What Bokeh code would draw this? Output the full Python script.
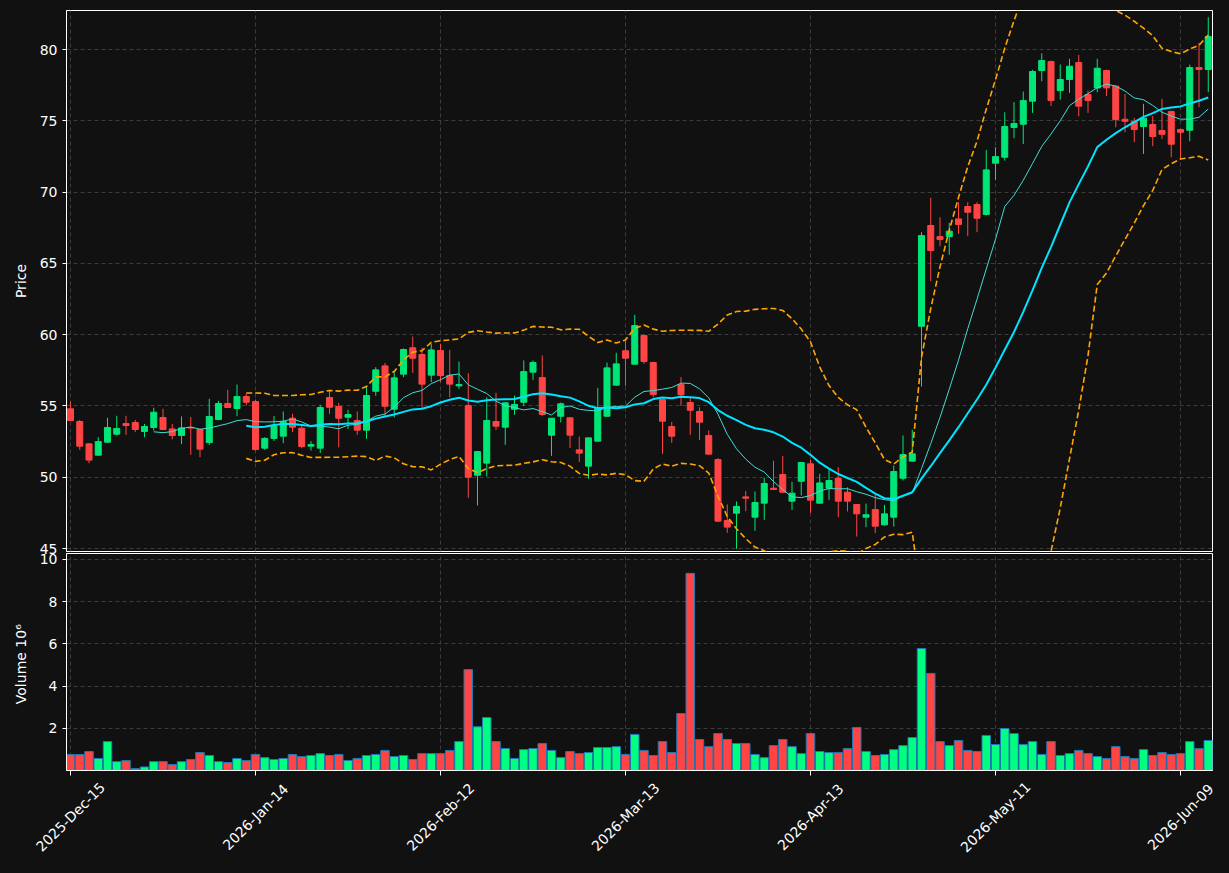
import math
import numpy as np
import pandas as pd
from bokeh.plotting import figure
from bokeh.layouts import column
from bokeh.models import FixedTicker, Range1d
from bokeh.embed import file_html
from bokeh.resources import INLINE

# ---------------- data ----------------
tick_positions = [0, 20, 40, 60, 80, 100, 120]
tick_labels = ["2025-Dec-15", "2026-Jan-14", "2026-Feb-12", "2026-Mar-13",
               "2026-Apr-13", "2026-May-11", "2026-Jun-09"]

open_ = [54.80, 53.91, 52.34, 51.55, 52.46, 53.02, 53.77, 53.84, 53.21, 53.49,
         54.19, 53.39, 52.93, 53.50, 53.35, 52.43, 54.05, 55.17, 54.82, 55.66,
         55.31, 52.04, 52.72, 52.88, 54.14, 53.44, 52.18, 52.04, 55.59, 54.96,
         54.21, 53.98, 53.30, 56.03, 57.81, 54.77, 57.23, 59.08, 58.61, 57.16,
         58.89, 57.13, 56.41, 55.03, 50.14, 50.99, 53.91, 53.51, 54.77, 55.26,
         57.37, 56.99, 52.95, 54.28, 54.17, 51.92, 50.78, 52.53, 54.28, 56.46,
         58.87, 57.93, 59.94, 58.05, 55.45, 53.56, 56.50, 55.24, 54.61, 52.93,
         51.24, 46.96, 47.48, 48.62, 47.20, 48.18, 49.23, 50.19, 48.32, 49.72,
         50.94, 48.18, 49.23, 49.93, 48.95, 48.09, 47.20, 47.73, 46.66, 47.20,
         49.93, 51.13, 60.59, 67.66, 66.88, 66.88, 68.12, 68.99, 69.13, 68.43,
         72.03, 72.45, 74.53, 74.76, 76.38, 78.53, 79.16, 77.12, 77.90, 79.09,
         76.84, 77.31, 78.53, 77.43, 75.11, 74.95, 74.60, 74.74, 74.32, 75.65,
         74.39, 74.34, 78.74, 78.60]
high = [55.31, 54.02, 52.40, 52.81, 54.17, 54.31, 54.31, 54.02, 53.74, 54.87,
        54.80, 53.74, 54.26, 54.23, 53.40, 55.50, 55.36, 56.13, 56.50, 55.85,
        55.45, 52.81, 54.30, 54.61, 54.45, 53.60, 52.53, 55.08, 56.06, 55.22,
        54.73, 54.61, 56.31, 57.72, 58.02, 57.37, 59.03, 59.87, 59.08, 59.36,
        59.36, 58.93, 58.12, 57.30, 51.85, 55.61, 55.92, 55.25, 55.73, 58.19,
        58.19, 58.54, 54.14, 55.24, 54.20, 52.85, 52.80, 56.27, 58.05, 58.73,
        59.59, 61.39, 60.00, 58.10, 55.50, 53.88, 57.02, 55.57, 54.91, 53.28,
        51.34, 48.09, 48.30, 49.04, 49.00, 49.96, 51.15, 51.50, 49.68, 51.05,
        51.22, 50.24, 50.52, 50.70, 49.30, 48.12, 48.15, 48.79, 48.06, 50.82,
        52.93, 53.32, 67.19, 69.60, 68.24, 67.84, 69.29, 69.29, 69.29, 72.96,
        73.15, 75.60, 76.31, 77.05, 78.57, 79.74, 79.23, 78.95, 79.35, 79.63,
        77.12, 79.35, 78.60, 77.50, 76.89, 75.21, 76.19, 75.35, 76.54, 75.70,
        74.45, 78.95, 80.47, 82.27]
low = [53.95, 51.92, 50.98, 51.50, 52.40, 52.93, 52.97, 53.16, 52.81, 53.28,
       53.30, 52.65, 52.32, 51.57, 51.41, 52.27, 54.00, 54.85, 54.28, 55.03,
       51.87, 51.92, 52.55, 52.39, 53.16, 52.04, 51.87, 51.69, 54.45, 52.10,
       53.39, 52.97, 52.69, 55.71, 54.21, 54.19, 57.02, 57.32, 54.87, 56.67,
       56.67, 55.61, 56.20, 48.55, 48.02, 50.05, 53.32, 52.27, 54.38, 55.01,
       56.83, 54.28, 51.50, 53.84, 52.06, 51.06, 49.89, 52.50, 54.25, 56.40,
       56.41, 57.90, 57.95, 55.61, 51.64, 52.41, 55.01, 52.97, 52.62, 51.60,
       46.85, 46.10, 44.98, 47.62, 46.24, 47.01, 49.12, 48.88, 47.71, 48.72,
       47.50, 48.15, 48.41, 47.20, 47.60, 45.84, 46.50, 46.08, 46.62, 46.54,
       49.77, 51.10, 56.36, 63.75, 66.21, 65.60, 67.07, 66.91, 67.19, 68.36,
       70.86, 72.21, 73.78, 73.38, 75.56, 77.78, 76.03, 76.49, 76.96, 75.32,
       75.56, 77.01, 76.73, 74.55, 74.20, 73.50, 72.68, 73.22, 73.73, 72.45,
       72.33, 73.57, 75.96, 77.01]
close = [53.98, 52.18, 51.20, 52.50, 53.49, 53.42, 53.63, 53.35, 53.56, 54.56,
         53.35, 52.93, 53.46, 53.45, 51.97, 54.26, 55.17, 54.89, 55.66, 55.26,
         51.94, 52.72, 53.56, 53.91, 53.51, 52.15, 52.29, 54.89, 54.91, 54.14,
         54.40, 53.30, 55.73, 57.53, 54.98, 56.97, 58.96, 58.35, 56.53, 58.93,
         57.13, 56.53, 56.50, 50.00, 51.80, 53.98, 53.58, 55.22, 55.10, 57.41,
         58.05, 54.40, 54.14, 55.15, 52.95, 51.69, 52.76, 54.87, 57.67, 57.95,
         58.35, 60.64, 58.12, 55.80, 53.93, 52.88, 55.78, 54.70, 53.86, 51.62,
         46.92, 46.50, 47.95, 48.53, 48.23, 49.56, 49.14, 48.95, 48.88, 51.03,
         48.39, 49.60, 49.77, 48.32, 48.32, 47.43, 47.37, 46.57, 47.43, 50.40,
         51.59, 51.64, 66.95, 65.90, 66.67, 67.26, 67.73, 68.59, 68.17, 71.56,
         72.49, 74.60, 74.81, 76.42, 78.46, 79.23, 76.42, 77.90, 78.83, 76.03,
         76.42, 78.69, 77.31, 75.09, 74.97, 74.39, 75.18, 73.90, 74.06, 73.36,
         74.20, 78.74, 78.60, 80.91]
volume = [0.76, 0.76, 0.90, 0.57, 1.37, 0.42, 0.47, 0.09, 0.17, 0.42,
          0.42, 0.28, 0.42, 0.52, 0.85, 0.71, 0.42, 0.38, 0.57, 0.47,
          0.76, 0.61, 0.52, 0.57, 0.76, 0.66, 0.71, 0.80, 0.71, 0.76,
          0.47, 0.57, 0.71, 0.76, 0.95, 0.66, 0.71, 0.52, 0.80, 0.80,
          0.80, 0.95, 1.37, 4.78, 2.07, 2.51, 1.37, 1.04, 0.57, 0.99,
          1.04, 1.28, 0.95, 0.61, 0.90, 0.80, 0.85, 1.09, 1.09, 1.13,
          0.76, 1.71, 0.95, 0.71, 1.37, 0.85, 2.70, 9.34, 1.47, 1.13,
          1.75, 1.47, 1.28, 1.28, 0.76, 0.61, 1.18, 1.47, 1.13, 0.80,
          1.75, 0.90, 0.85, 0.85, 1.04, 2.04, 0.90, 0.71, 0.76, 0.99,
          1.18, 1.56, 5.78, 4.60, 1.37, 1.18, 1.42, 0.95, 0.90, 1.66,
          1.23, 1.99, 1.75, 1.23, 1.37, 0.76, 1.37, 0.71, 0.80, 0.95,
          0.80, 0.66, 0.57, 1.13, 0.66, 0.57, 0.99, 0.71, 0.85, 0.76,
          0.80, 1.37, 1.04, 1.42]

# ---------------- styling ----------------
BG = "#111111"
UP_C = "#00e676"
DN_C = "#ff4444"
VUP_C = "#00ff80"
GRID_C = "#3c3c3c"
TXT = "#ffffff"

df = pd.DataFrame(dict(o=open_, h=high, l=low, c=close, v=volume))
df["i"] = np.arange(len(df))
up = df["c"] >= df["o"]
df["color"] = np.where(up, UP_C, DN_C)
df["vcolor"] = np.where(up, VUP_C, DN_C)
df["top"] = df[["o", "c"]].max(axis=1)
df["bottom"] = df[["o", "c"]].min(axis=1)
df["ma10"] = df["c"].rolling(10).mean()
df["ma20"] = df["c"].rolling(20).mean()
sd = df["c"].rolling(20).std()
df["bb_up"] = df["ma20"] + 2 * sd
df["bb_lo"] = df["ma20"] - 2 * sd

W = 1229
LEFT, RIGHT = 66, 17
PX_PER_BAR = 9.25
X0_PX = 70  # pixel of bar 0
x_range = Range1d((LEFT - X0_PX) / PX_PER_BAR, (W - RIGHT - X0_PX) / PX_PER_BAR)


def style(p):
    p.background_fill_color = BG
    p.border_fill_color = BG
    p.outline_line_color = "white"
    p.outline_line_width = 1
    for g in (p.xgrid, p.ygrid):
        g.grid_line_color = GRID_C
        g.grid_line_dash = "4 3"
        g.grid_line_width = 1
    for ax in p.yaxis:
        ax.axis_line_color = "white"
        ax.major_tick_line_color = "white"
        ax.minor_tick_line_color = None
        ax.major_tick_out = 4
        ax.major_tick_in = 0
        ax.major_label_text_color = TXT
        ax.major_label_text_font = "DejaVu Sans"
        ax.major_label_text_font_size = "14px"
        ax.axis_label_text_color = TXT
        ax.axis_label_text_font = "DejaVu Sans"
        ax.axis_label_text_font_size = "14px"
        ax.axis_label_text_font_style = "normal"
        ax.axis_label_standoff = 8


# ---------------- price panel ----------------
p1 = figure(width=W, height=561, x_range=x_range, y_range=Range1d(44.79, 82.74),
            output_backend="svg", toolbar_location=None,
            min_border_left=LEFT, min_border_right=RIGHT, min_border_top=10, min_border_bottom=10)
style(p1)
p1.xaxis.visible = False
p1.xaxis.ticker = FixedTicker(ticks=tick_positions)
p1.xgrid.ticker = FixedTicker(ticks=tick_positions)
p1.yaxis.ticker = FixedTicker(ticks=[45, 50, 55, 60, 65, 70, 75, 80])
p1.yaxis.axis_label = "Price"

p1.segment(x0="i", y0="l", x1="i", y1="h", color="color", line_width=1, source=df)
p1.vbar(x="i", width=0.65, top="top", bottom="bottom", fill_color="color",
        line_color="color", line_width=1, source=df)
p1.line(df["i"], df["ma10"], line_color="#40dcd4", line_width=1)
p1.line(df["i"], df["ma20"], line_color="#00e5ff", line_width=2)
p1.line(df["i"], df["bb_up"], line_color="#ffa500", line_width=1.6, line_dash="6 3")
p1.line(df["i"], df["bb_lo"], line_color="#ffa500", line_width=1.6, line_dash="6 3")

# ---------------- volume panel ----------------
p2 = figure(width=W, height=321, x_range=x_range, y_range=Range1d(0, 10.28),
            output_backend="svg", toolbar_location=None,
            min_border_left=LEFT, min_border_right=RIGHT, min_border_top=1, min_border_bottom=103,
            styles={"margin-top": "-9px"})
style(p2)
p2.border_fill_alpha = 0
p2.vbar(x="i", width=0.92, top="v", bottom=0, fill_color="vcolor",
        line_color="#1f77b4", line_width=1, source=df)
p2.yaxis.ticker = FixedTicker(ticks=[2, 4, 6, 8, 10])
p2.yaxis.axis_label = "Volume  10\u2076"
p2.xaxis.ticker = FixedTicker(ticks=tick_positions)
p2.xgrid.ticker = FixedTicker(ticks=tick_positions)
p2.xaxis.major_label_overrides = {k: "" for k in tick_positions}
p2.xaxis.axis_line_color = "white"
p2.xaxis.major_tick_line_color = "white"
p2.xaxis.minor_tick_line_color = None
p2.xaxis.major_tick_out = 5
p2.xaxis.major_tick_in = 0

# ---------------- date labels strip (overlaid on the volume panel's bottom border) ----------------
STRIP_H = 103
p3 = figure(width=W, height=STRIP_H,
            x_range=Range1d(-X0_PX / PX_PER_BAR, (W - X0_PX) / PX_PER_BAR),
            y_range=Range1d(0, STRIP_H),
            output_backend="svg", toolbar_location=None,
            x_axis_location=None, y_axis_location=None,
            min_border_left=0, min_border_right=0, min_border_top=0, min_border_bottom=0)
p3.background_fill_alpha = 0
p3.border_fill_alpha = 0
p3.outline_line_color = None
p3.grid.visible = False
p3.text(x=tick_positions, y=[STRIP_H - 46.5] * len(tick_positions), text=tick_labels,
        angle=math.pi / 4, text_align="center", text_baseline="middle",
        text_color=TXT, text_font_size="14px", text_font={"value": "DejaVu Sans"})

strip = column(p3, spacing=0, styles={"margin-top": f"-{STRIP_H}px"})
layout = column(column(p1, p2, spacing=0), strip, spacing=0, styles={"background-color": BG})
html = file_html(layout, INLINE)
html = html.replace("<body>", '<body style="margin:0;background:#111111;">')
open("out.html", "w").write(html)
